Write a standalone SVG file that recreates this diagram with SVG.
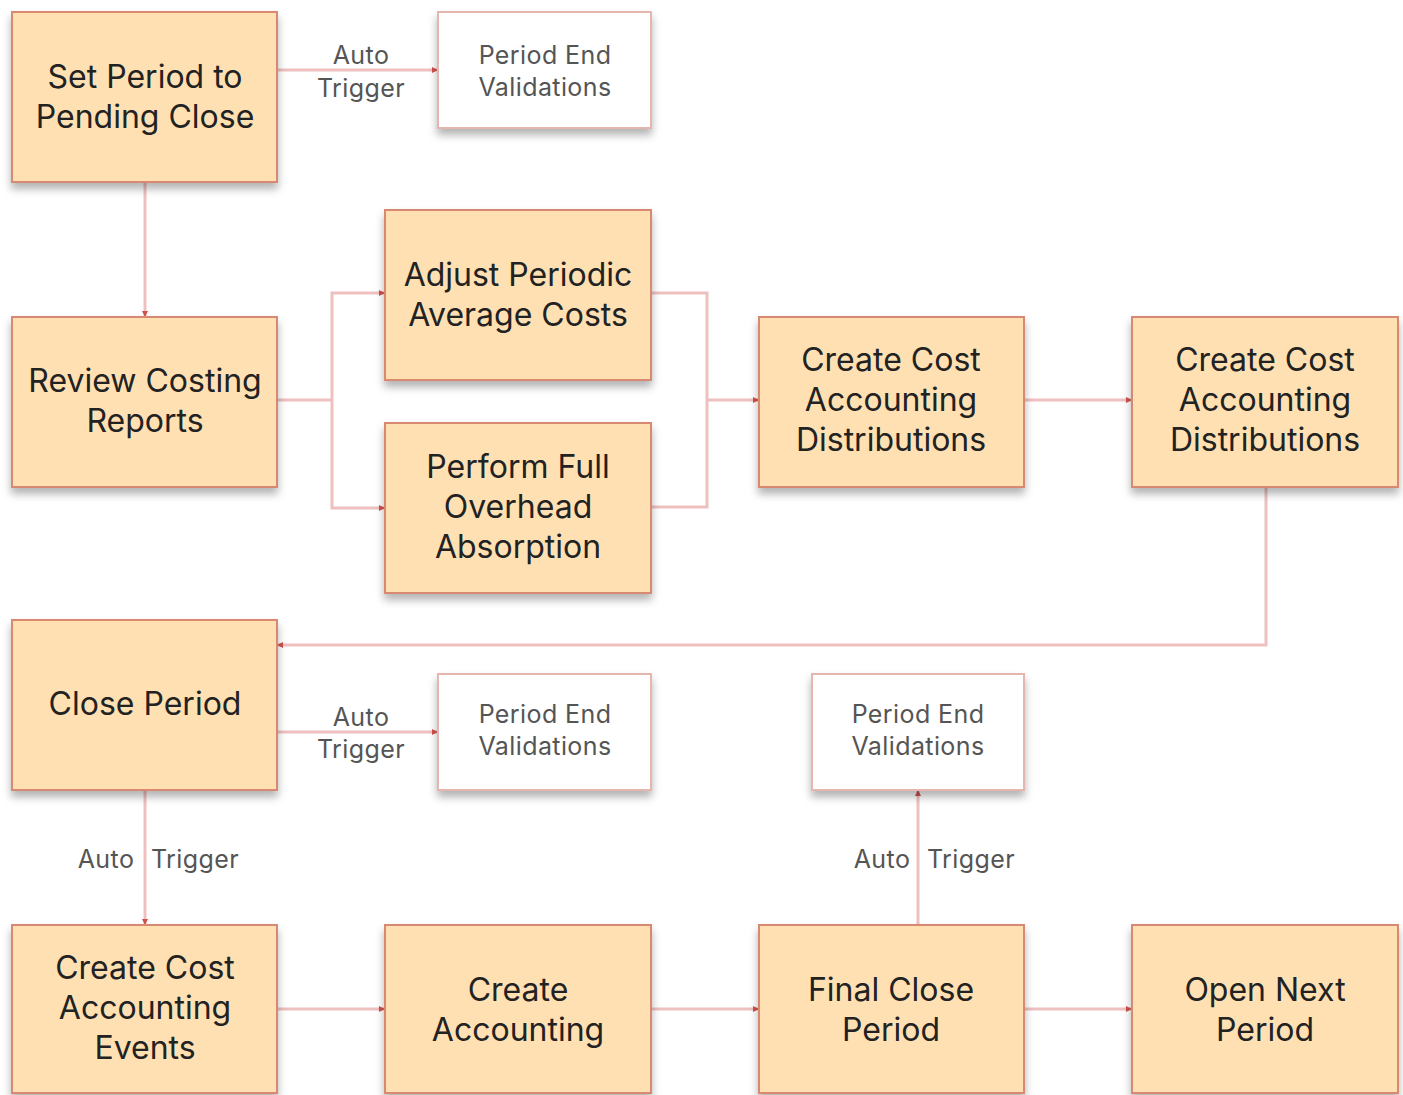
<svg xmlns="http://www.w3.org/2000/svg" width="1403" height="1095" viewBox="0 0 1403 1095">
<defs>
<filter id="sh" x="-10%" y="-10%" width="120%" height="130%">
<feDropShadow dx="0" dy="6" stdDeviation="4" flood-color="#000" flood-opacity="0.3"/>
</filter>
<marker id="arr" markerWidth="6" markerHeight="6" refX="5" refY="3" orient="auto" markerUnits="userSpaceOnUse">
<path d="M0,0 L6,3 L0,6 z" fill="#D0504A"/>
</marker>
<style>
.n rect{fill:#FFE0B2;stroke:#D98872;stroke-width:2;filter:url(#sh)}
.v rect{fill:#FFFFFF;stroke:#E6B5AE;stroke-width:2;filter:url(#sh)}
.n text{font-family:Inter,"Liberation Sans",sans-serif;font-size:32px;fill:#222;text-anchor:middle}
.v text{font-family:Inter,"Liberation Sans",sans-serif;font-size:25px;letter-spacing:0.4px;fill:#555;text-anchor:middle}
.c path{fill:none;stroke:#EEC0BF;stroke-width:3}
.c .a{marker-end:url(#arr)}
.lbl{font-family:Inter,"Liberation Sans",sans-serif;font-size:25px;letter-spacing:0.4px;fill:#555;text-anchor:middle}
</style>
</defs>
<rect width="1403" height="1095" fill="#fff"/>
<g id="connectors" class="c">
<path class="a" d="M277,70 H437"/>
<path class="a" d="M145,182 V316"/>
<path d="M277,400 H332"/>
<path class="a" d="M332,400 V293 H384"/>
<path class="a" d="M332,400 V508 H384"/>
<path d="M651,293 H707 V507 H651"/>
<path class="a" d="M707,400 H758"/>
<path class="a" d="M1024,400 H1131"/>
<path class="a" d="M1266,487 V645 H278"/>
<path class="a" d="M277,732 H437"/>
<path class="a" d="M145,790 V924"/>
<path class="a" d="M918,925 V791"/>
<path class="a" d="M277,1009 H384"/>
<path class="a" d="M651,1009 H758"/>
<path class="a" d="M1024,1009 H1131"/>
<text class="lbl" x="361" y="64">Auto</text>
<text class="lbl" x="361" y="97">Trigger</text>
<text class="lbl" x="361" y="726">Auto</text>
<text class="lbl" x="361" y="758">Trigger</text>
<text class="lbl" x="106" y="868">Auto</text>
<text class="lbl" x="195" y="868">Trigger</text>
<text class="lbl" x="882" y="868">Auto</text>
<text class="lbl" x="971" y="868">Trigger</text>
</g>
<g id="n-set-period" class="n"><rect x="12" y="12" width="265" height="170"/><text x="145" y="88">Set Period to</text><text x="145" y="128">Pending Close</text></g>
<g id="n-pev-top" class="v"><rect x="438" y="12" width="213" height="116"/><text x="545" y="64">Period End</text><text x="545" y="96">Validations</text></g>
<g id="n-review" class="n"><rect x="12" y="317" width="265" height="170"/><text x="145" y="392">Review Costing</text><text x="145" y="432">Reports</text></g>
<g id="n-adjust" class="n"><rect x="385" y="210" width="266" height="170"/><text x="518" y="286">Adjust Periodic</text><text x="518" y="326">Average Costs</text></g>
<g id="n-perform" class="n"><rect x="385" y="423" width="266" height="170"/><text x="518" y="478">Perform Full</text><text x="518" y="518">Overhead</text><text x="518" y="558">Absorption</text></g>
<g id="n-ccad1" class="n"><rect x="759" y="317" width="265" height="170"/><text x="891" y="371">Create Cost</text><text x="891" y="411">Accounting</text><text x="891" y="451">Distributions</text></g>
<g id="n-ccad2" class="n"><rect x="1132" y="317" width="266" height="170"/><text x="1265" y="371">Create Cost</text><text x="1265" y="411">Accounting</text><text x="1265" y="451">Distributions</text></g>
<g id="n-close" class="n"><rect x="12" y="620" width="265" height="170"/><text x="145" y="715">Close Period</text></g>
<g id="n-pev-mid" class="v"><rect x="438" y="674" width="213" height="116"/><text x="545" y="723">Period End</text><text x="545" y="755">Validations</text></g>
<g id="n-pev-right" class="v"><rect x="812" y="674" width="212" height="116"/><text x="918" y="723">Period End</text><text x="918" y="755">Validations</text></g>
<g id="n-ccae" class="n"><rect x="12" y="925" width="265" height="168"/><text x="145" y="979">Create Cost</text><text x="145" y="1019">Accounting</text><text x="145" y="1059">Events</text></g>
<g id="n-create-acc" class="n"><rect x="385" y="925" width="266" height="168"/><text x="518" y="1001">Create</text><text x="518" y="1041">Accounting</text></g>
<g id="n-final" class="n"><rect x="759" y="925" width="265" height="168"/><text x="891" y="1001">Final Close</text><text x="891" y="1041">Period</text></g>
<g id="n-open" class="n"><rect x="1132" y="925" width="266" height="168"/><text x="1265" y="1001">Open Next</text><text x="1265" y="1041">Period</text></g>
</svg>
